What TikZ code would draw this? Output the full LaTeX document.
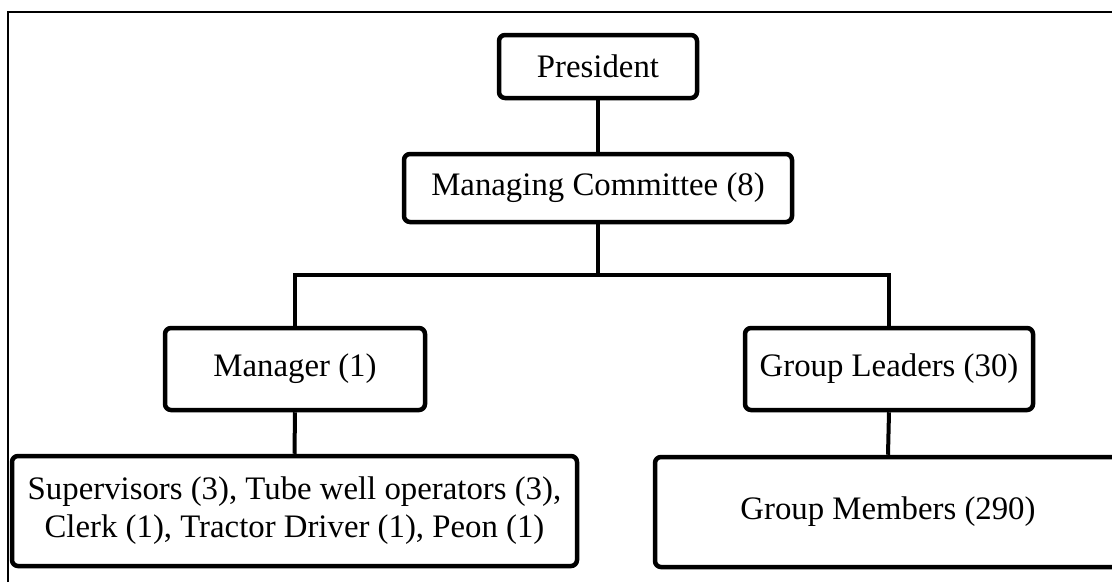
\documentclass[tikz,border=0pt]{standalone}
\usepackage{fontspec}
\setmainfont{Liberation Serif}
\begin{document}
\begin{tikzpicture}[x=1pt,y=-1pt,
  box/.style={draw, line width=4.5pt, rounded corners=6pt, align=center,
    font=\fontsize{32.8}{38}\selectfont, inner sep=0pt},
  conn/.style={line width=4pt},
  frame/.style={line width=2.5pt}]
\clip (0,0) rectangle (1112,582);
\draw[frame] (8,582) -- (8,12) -- (1112,12);
\node[box, minimum width=198pt, minimum height=63pt] (pres) at (598,66.5) {President};
\node[box, minimum width=388pt, minimum height=68pt] (mc) at (598,188) {Managing Committee (8)};
\node[box, minimum width=260pt, minimum height=82pt] (mgr) at (295,369) {Manager (1)};
\node[box, minimum width=288pt, minimum height=82pt] (gl) at (889,369) {Group Leaders (30)};
\node[box, minimum width=565pt, minimum height=110pt] (sup) at (294.5,511) {Supervisors (3), Tube well operators (3),\\Clerk (1), Tractor Driver (1), Peon (1)};
\node[box, minimum width=466pt, minimum height=110pt] (gm) at (888,512) {Group Members (290)};
\coordinate (br) at (598,275);
\draw[conn] (pres.south) -- (mc.north);
\draw[conn] (mc.south) -- (br);
\draw[conn] (br) -| (mgr.north);
\draw[conn] (br) -| (gl.north);
\draw[conn] (mgr.south) -- (sup.north);
\draw[conn] (gl.south) -- (gm.north);
\end{tikzpicture}
\end{document}
